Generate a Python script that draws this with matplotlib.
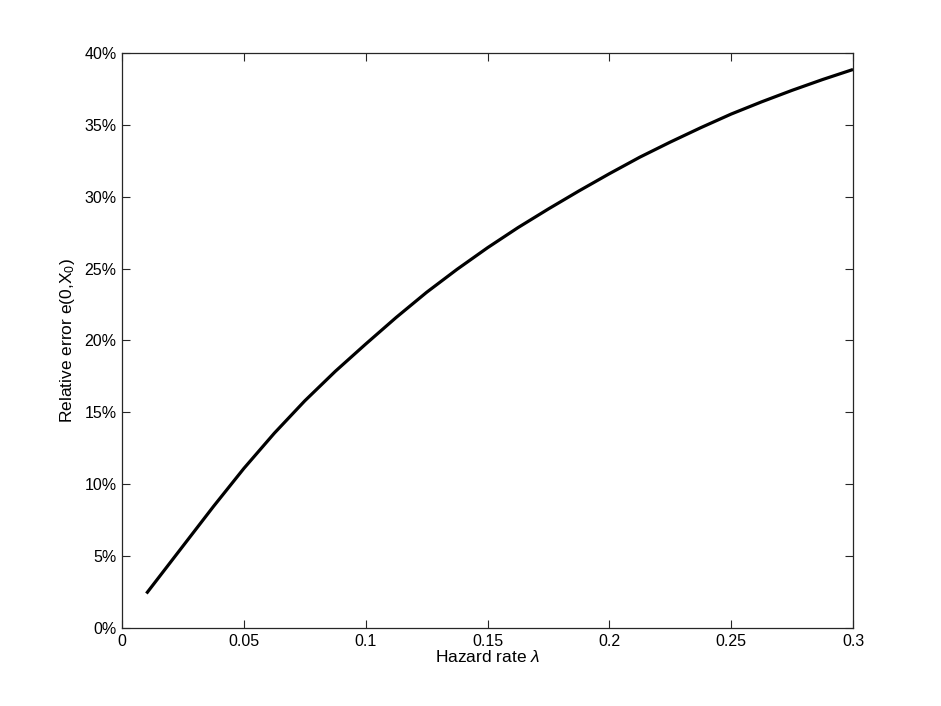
import numpy as np
import matplotlib
matplotlib.use('Agg')
import matplotlib.pyplot as plt
from matplotlib.ticker import FuncFormatter

plt.rcParams['font.family'] = ['Liberation Sans', 'DejaVu Sans']
plt.rcParams['mathtext.fontset'] = 'custom'
plt.rcParams['mathtext.rm'] = 'Liberation Sans'
plt.rcParams['mathtext.it'] = 'Liberation Sans:italic'

# hazard rate vs relative error (%)
lam = [0.01, 0.025, 0.0375, 0.05, 0.0625, 0.075, 0.0875, 0.1,
       0.1125, 0.125, 0.1375, 0.15, 0.1625, 0.175, 0.1875, 0.2,
       0.2125, 0.225, 0.2375, 0.25, 0.2625, 0.275, 0.2875, 0.3]
err = [2.4, 5.7, 8.45, 11.1, 13.55, 15.8, 17.85, 19.75,
       21.6, 23.35, 24.95, 26.45, 27.85, 29.15, 30.4, 31.6,
       32.75, 33.8, 34.8, 35.75, 36.6, 37.4, 38.15, 38.85]

xticks = [0, 0.05, 0.1, 0.15, 0.2, 0.25, 0.3]
yticks = [0, 5, 10, 15, 20, 25, 30, 35, 40]

edge = '#262626'

fig = plt.figure(figsize=(9.41, 7.06), dpi=100)
ax = fig.add_axes([0.1297, 0.1105, 0.7768, 0.8145])

ax.plot(lam, err, color='black', linewidth=2.3, solid_capstyle='butt',
        solid_joinstyle='round')

ax.set_xlim(0, 0.3)
ax.set_ylim(0, 40)
ax.set_xticks(xticks)
ax.set_yticks(yticks)
ax.xaxis.set_major_formatter(FuncFormatter(lambda v, p: f'{v:g}'))
ax.yaxis.set_major_formatter(FuncFormatter(lambda v, p: f'{v:g}%'))

ax.tick_params(direction='in', length=6, width=0.8, colors=edge,
               labelsize=11.5, top=True, right=True, pad=4)
ax.tick_params(axis='both', labelcolor='black')
for s in ax.spines.values():
    s.set_color(edge)
    s.set_linewidth(0.9)

ax.set_xlabel(r'Hazard rate $\lambda$', fontsize=12.5, labelpad=0)
ax.set_ylabel(r'Relative error e(0,X$_0$)', fontsize=12.5, labelpad=5)

fig.savefig('out.png', dpi=100)
